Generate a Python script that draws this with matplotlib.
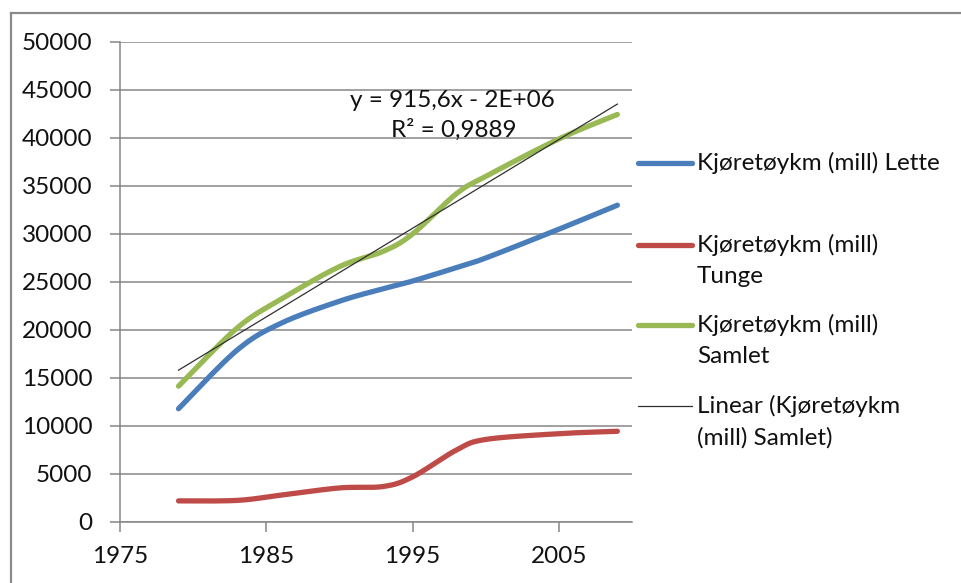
import numpy as np
import matplotlib
matplotlib.use('Agg')
import matplotlib.pyplot as plt
from matplotlib.lines import Line2D

# Data
years = [1979, 1983, 1986, 1990, 1993, 1995, 1998, 2000, 2005, 2009]
lette = [11800, 17900, 20700, 23000, 24300, 25100, 26500, 27500, 30500, 33000]
tunge = [2200, 2250, 2800, 3550, 3700, 4700, 7500, 8600, 9200, 9450]
samlet = [14150, 20200, 23200, 26600, 28200, 30000, 34200, 36000, 39900, 42450]

labels = ['Kjøretøykm (mill) Lette',
          'Kjøretøykm (mill)\nTunge',
          'Kjøretøykm (mill)\nSamlet',
          'Linear (Kjøretøykm\n(mill) Samlet)']
farger = ['#4A7EBB', '#BE4B48', '#98B954', '#303030']

x_ticks = [1975, 1985, 1995, 2005]
y_ticks = list(range(0, 50001, 5000))

eq_text = 'y = 915,6x - 2E+06'
r2_text = 'R² = 0,9889'

plt.rcParams['font.family'] = ['Lato', 'DejaVu Sans']
GRID = '#868686'
TXT = '#111111'
FS = 17.5


def glatt(xs, ys, n=40):
    # Excel-lignende glatting (Bezier med tangent (P[i+1]-P[i-1])/6)
    p = np.column_stack([xs, ys]).astype(float)
    p_ext = np.vstack([p[0], p, p[-1]])
    ut = []
    t = np.linspace(0, 1, n)[:, None]
    for i in range(len(p) - 1):
        p0, p1 = p_ext[i + 1], p_ext[i + 2]
        c1 = p0 + (p_ext[i + 2] - p_ext[i]) / 6
        c2 = p1 - (p_ext[i + 3] - p_ext[i + 1]) / 6
        seg = ((1 - t) ** 3) * p0 + 3 * ((1 - t) ** 2) * t * c1 \
            + 3 * (1 - t) * t ** 2 * c2 + t ** 3 * p1
        ut.append(seg if i == 0 else seg[1:])
    ut = np.vstack(ut)
    return ut[:, 0], ut[:, 1]


W, H = 962, 583
fig = plt.figure(figsize=(W / 100, H / 100), dpi=100)
fig.patch.set_facecolor('white')

# ytre ramme (topp og venstre)
fig.add_artist(Line2D([11 / W, 11 / W], [0, 1 - 13 / H], transform=fig.transFigure,
                      color='#8a8a8a', lw=1.6))
fig.add_artist(Line2D([11 / W, 1], [1 - 13 / H, 1 - 13 / H], transform=fig.transFigure,
                      color='#8a8a8a', lw=1.6))

ax = fig.add_axes([120 / W, (H - 522) / H, 512 / W, 480 / H])

for serie, farge in zip([lette, tunge, samlet], farger[:3]):
    sx, sy = glatt(years, serie)
    ax.plot(sx, sy, color=farge, lw=3.8, solid_capstyle='round', zorder=3)

# lineær trendlinje for Samlet
k, m = np.polyfit(years, samlet, 1)
tx = np.array([years[0], years[-1]])
ax.plot(tx, k * tx + m, color=farger[3], lw=0.9, zorder=4)

ax.set_xlim(1975, 2010)
ax.set_ylim(0, 50000)
ax.set_xticks(x_ticks)
ax.set_yticks(y_ticks)
ax.grid(axis='y', color=GRID, lw=1.1)
ax.set_axisbelow(True)
for s in ['top', 'right']:
    ax.spines[s].set_visible(False)
for s in ['left', 'bottom']:
    ax.spines[s].set_color(GRID)
    ax.spines[s].set_linewidth(1.1)
ax.tick_params(axis='y', length=7, width=1.1, color=GRID, pad=13, labelsize=FS,
               labelcolor=TXT)
ax.tick_params(axis='x', length=7, width=1.1, color=GRID, pad=10, labelsize=FS,
               labelcolor=TXT)

ax.text(1997.7, 43900, eq_text, ha='center', va='center', fontsize=FS, color=TXT)
ax.text(1997.8, 40900, r2_text, ha='center', va='center', fontsize=FS, color=TXT)

# forklaring (manuelt plassert)
rader = [163, 245, 325, 406]
for lab, farge, yy in zip(labels, farger, rader):
    lw = 0.9 if lab.startswith('Linear') else 3.8
    fig.add_artist(Line2D([638 / W, 692 / W], [1 - yy / H, 1 - yy / H],
                          transform=fig.transFigure, color=farge,
                          lw=lw, solid_capstyle='round'))
    for j, linje in enumerate(lab.split('\n')):
        fig.text(697 / W, 1 - (yy + j * 31.5) / H, linje, ha='left', va='center',
                 fontsize=FS, color=TXT)

plt.savefig('out.png', dpi=100)
plt.close()
